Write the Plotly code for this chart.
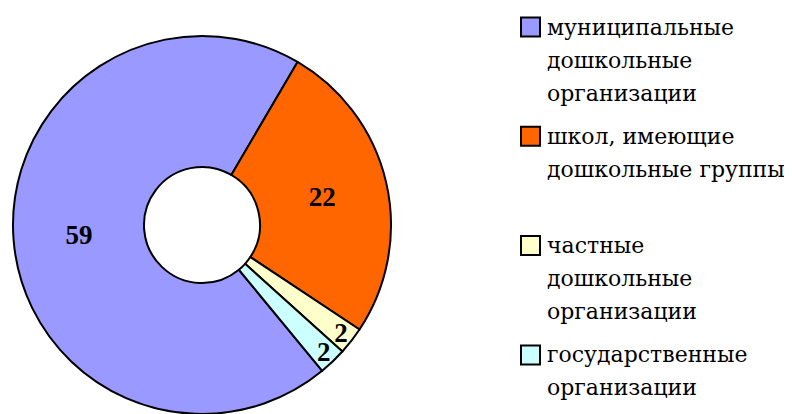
import plotly.graph_objects as go

# ---- data ----
labels = [
    "муниципальные дошкольные организации",
    "школ, имеющие дошкольные группы",
    "частные дошкольные организации",
    "государственные организации",
]
legend_lines = [
    ["муниципальные", "дошкольные", "организации"],
    ["школ, имеющие", "дошкольные группы"],
    ["частные", "дошкольные", "организации"],
    ["государственные", "организации"],
]
values = [59, 22, 2, 2]
colors = ["#9999FF", "#FF6600", "#FFFFCC", "#CCFFFF"]

# ---- layout constants (page body has an 8px margin) ----
OFF = 8
W, H = 792 - OFF, 414 - OFF
SERIF = "Liberation Serif"
LEGEND_FONT = "DejaVu Serif"

cx, cy, R = 202 - OFF, 225 - OFF, 189
dom_x = [(cx - R) / W, (cx + R) / W]
dom_y = [0, 2 * R / H]

fig = go.Figure(
    go.Pie(
        labels=labels,
        values=values,
        sort=False,
        direction="clockwise",
        rotation=140.5,
        hole=58 / R,
        marker=dict(colors=colors, line=dict(color="black", width=2)),
        textinfo="value",
        textposition="inside",
        insidetextorientation="horizontal",
        textfont=dict(family=SERIF, size=27, color="black", weight="bold"),
        domain=dict(x=dom_x, y=dom_y),
        hoverinfo="label+value",
        showlegend=False,
    )
)


def px(X):
    return (X - OFF) / W


def py(Y):
    return 1 - (Y - OFF) / H


LINE = 33.0
first_line_center = 29.0
item_step = 109.3
box_x0, box_size = 521, 19
text_x = 545

shapes = []
annotations = []
for i, (lines, col) in enumerate(zip(legend_lines, colors)):
    yc = first_line_center + i * item_step
    by = yc - 2
    shapes.append(
        dict(
            type="rect", xref="paper", yref="paper",
            x0=px(box_x0), x1=px(box_x0 + box_size),
            y0=py(by + box_size / 2), y1=py(by - box_size / 2),
            fillcolor=col, line=dict(color="black", width=2),
        )
    )
    for j, t in enumerate(lines):
        annotations.append(
            dict(
                xref="paper", yref="paper",
                x=px(text_x), y=py(yc + j * LINE - 2),
                xanchor="left", yanchor="middle",
                text=t, showarrow=False,
                font=dict(family=LEGEND_FONT, size=22, color="black"),
            )
        )

fig.update_layout(
    width=W, height=H,
    margin=dict(l=0, r=0, t=0, b=0),
    paper_bgcolor="white", plot_bgcolor="white",
    xaxis=dict(visible=False), yaxis=dict(visible=False),
    uniformtext=dict(minsize=27, mode="show"),
    showlegend=False,
    shapes=shapes,
    annotations=annotations,
)

fig.write_html("out.html")
